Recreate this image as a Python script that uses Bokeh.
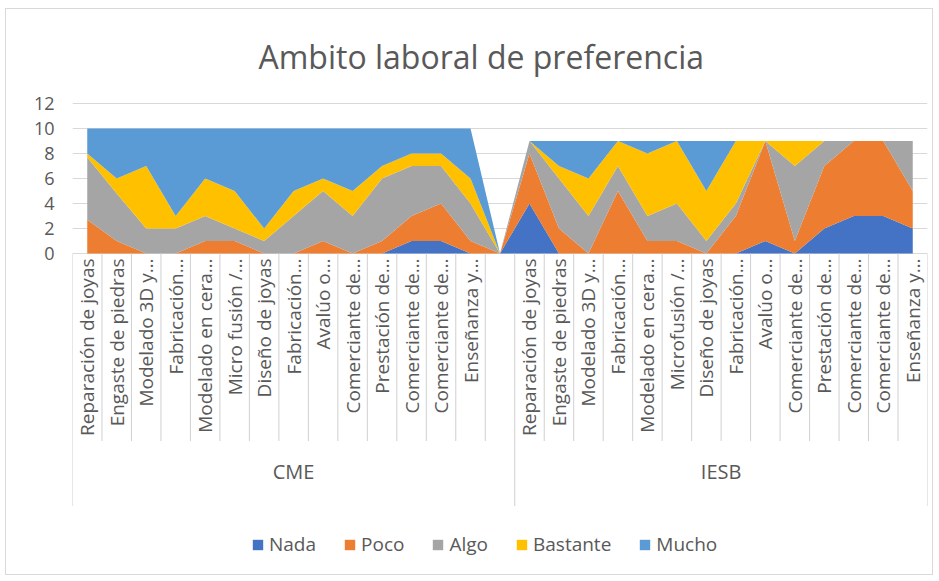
import numpy as np
from bokeh.plotting import figure
from bokeh.models import ColumnDataSource, Range1d, FixedTicker, Legend, LegendItem
from bokeh.core.properties import value
from bokeh.embed import file_html
from bokeh.resources import INLINE

# ---------------- data ----------------
groups = ["CME", "IESB"]
cme_labels = ["Reparación de joyas", "Engaste de piedras", "Modelado 3D y…", "Fabricación…",
              "Modelado en cera…", "Micro fusión /…", "Diseño de joyas", "Fabricación…",
              "Avalúo o…", "Comerciante de…", "Prestación de…", "Comerciante de…",
              "Comerciante de…", "Enseñanza y…", ""]
iesb_labels = ["Reparación de joyas", "Engaste de piedras", "Modelado 3D y…", "Fabricación…",
               "Modelado en cera…", "Microfusión /…", "Diseño de joyas", "Fabricación…",
               "Avalúo o…", "Comerciante de…", "Prestación de…", "Comerciante de…",
               "Comerciante de…", "Enseñanza y…"]
levels = ["Nada", "Poco", "Algo", "Bastante", "Mucho"]

nada_cme = [0, 0, 0, 0, 0, 0, 0, 0, 0, 0, 0, 1, 1, 0, 0]
poco_cme = [2.7, 1, 0, 0, 1, 1, 0, 0, 1, 0, 1, 2, 3, 1, 0]
algo_cme = [5, 3.8, 2, 2, 2, 1, 1, 3, 4, 3, 5, 4, 3, 3, 0]
bastante_cme = [0.3, 1.2, 5, 1, 3, 3, 1, 2, 1, 2, 1, 1, 1, 2, 0]
mucho_cme = [2, 4, 3, 7, 4, 5, 8, 5, 4, 5, 3, 2, 2, 4, 0]

nada_iesb = [4, 0, 0, 0, 0, 0, 0, 0, 1, 0, 2, 3, 3, 2]
poco_iesb = [4, 2, 0, 5, 1, 1, 0, 3, 8, 1, 5, 6, 6, 3]
algo_iesb = [1, 4, 3, 2, 2, 3, 1, 1, 0, 6, 2, 0, 0, 4]
bastante_iesb = [0, 1, 3, 2, 5, 5, 4, 5, 0, 2, 0, 0, 0, 0]
mucho_iesb = [0, 2, 3, 0, 1, 0, 4, 0, 0, 0, 0, 0, 0, 0]

y_ticks = [0, 2, 4, 6, 8, 10, 12]
colors = ["#4472C4", "#ED7D31", "#A5A5A5", "#FFC000", "#5B9BD5"]
text_col = "#595959"
grid_col = "#D9D9D9"
FONT = "Open Sans"

# ---------------- build ----------------
labels = cme_labels + iesb_labels
n = len(labels)
xs = list(range(n))
src = ColumnDataSource(dict(
    x=xs,
    Nada=nada_cme + nada_iesb,
    Poco=poco_cme + poco_iesb,
    Algo=algo_cme + algo_iesb,
    Bastante=bastante_cme + bastante_iesb,
    Mucho=mucho_cme + mucho_iesb,
))

p = figure(width=928, height=567, output_backend="svg", toolbar_location=None,
           x_range=Range1d(-0.5, n - 0.5), y_range=Range1d(-25.84, 12.56),
           x_axis_location=None, min_border_left=66, min_border_right=7,
           min_border_top=87, min_border_bottom=0)
p.margin = (8, 0, 0, 5)
p.styles = {"border": "1px solid #D9D9D9"}
p.outline_line_color = None
p.xgrid.visible = False
p.ygrid.ticker = FixedTicker(ticks=y_ticks)
p.ygrid.grid_line_color = grid_col
p.ygrid.grid_line_width = 1
p.yaxis.ticker = FixedTicker(ticks=y_ticks)
p.yaxis.axis_line_color = None
p.yaxis.major_tick_line_color = None
p.yaxis.minor_tick_line_color = None
p.yaxis.major_label_text_font = FONT
p.yaxis.major_label_text_font_size = "18px"
p.yaxis.major_label_text_color = text_col
p.yaxis.major_label_standoff = 12

p.title.text = "Ambito laboral de preferencia"
p.title.align = "left"
p.title.offset = 186
p.title.text_font = FONT
p.title.text_font_size = "32px"
p.title.text_font_style = "normal"
p.title.text_color = text_col
p.title.standoff = 37

rs = p.varea_stack(stackers=levels, x="x", color=colors, source=src)

# category separators
inner = [i + 0.5 for i in range(n - 1) if i + 1 != len(cme_labels)]
outer = [-0.5, len(cme_labels) - 0.5, n - 0.5]
p.segment(x0=inner, x1=inner, y0=[0] * len(inner), y1=[-15] * len(inner),
          line_color="#D0D0D0", line_width=1)
p.segment(x0=outer, x1=outer, y0=[0] * len(outer), y1=[-20.2] * len(outer),
          line_color="#D0D0D0", line_width=1)

# category labels
p.text(x=xs, y=[-0.4] * n, text=labels, angle=np.pi / 2, text_align="right",
       text_baseline="middle", text_font=value(FONT), text_font_size="19px",
       text_color=text_col)

# group labels
gx = [(len(cme_labels) - 1) / 2, len(cme_labels) + (len(iesb_labels) - 1) / 2]
p.text(x=gx, y=[-17.4] * 2, text=groups, text_align="center", text_baseline="middle",
       text_font=value(FONT), text_font_size="20px", text_color=text_col)

legend = Legend(items=[LegendItem(label=l, renderers=[r]) for l, r in zip(levels, rs)],
                orientation="horizontal", location=(179, 19))
legend.background_fill_alpha = 0
legend.border_line_color = None
legend.padding = 0
legend.margin = 0
legend.spacing = 27
legend.label_standoff = 5
legend.glyph_width = 13
legend.glyph_height = 13
legend.label_text_font = FONT
legend.label_text_font_size = "19px"
legend.label_text_color = text_col
p.add_layout(legend)

open("out.html", "w").write(file_html(p, INLINE))
